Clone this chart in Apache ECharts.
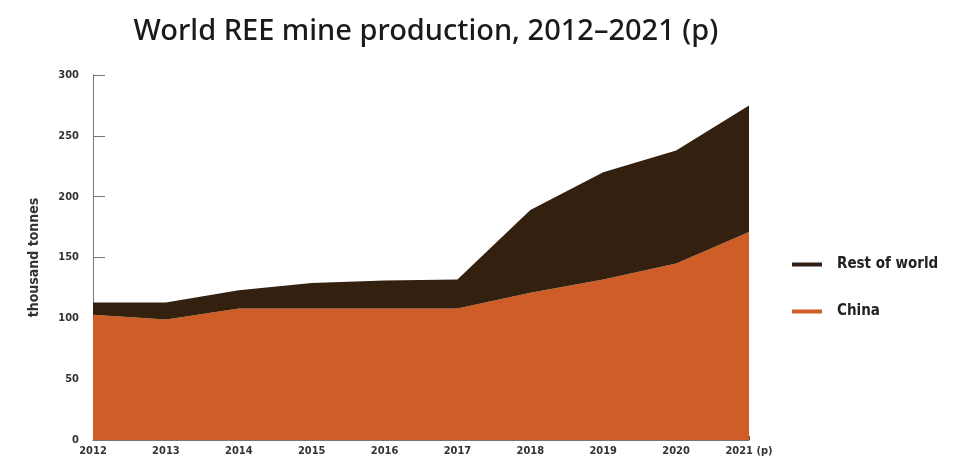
<!DOCTYPE html>
<html>
<head>
<meta charset="utf-8">
<script src="https://cdn.jsdelivr.net/npm/echarts@6/dist/echarts.min.js"></script>
<style>
  html, body { margin: 0; padding: 0; background: #fff; }
  #main { width: 963px; height: 462px; }
</style>
</head>
<body>
<div id="main"></div>
<script>
// 年份（横轴）
var years = ['2012', '2013', '2014', '2015', '2016', '2017', '2018', '2019', '2020', '2021 (p)'];
// 中国产量 / 其他国家产量（千吨）
var china = [103, 99, 108, 108, 108, 108, 121, 132, 145, 171];
var restOfWorld = [10, 14, 15, 21, 23, 24, 68, 88, 93, 104];
var yTicks = [0, 50, 100, 150, 200, 250, 300];

var labelFont = 'DejaVu Sans Condensed';

var myChart = echarts.init(document.getElementById('main'));
myChart.setOption({
  animation: false,
  title: {
    text: 'World REE mine production, 2012\u20132021 (p)',
    left: 421,
    textAlign: 'center',
    top: 12,
    textStyle: {
      fontFamily: 'Noto Sans',
      fontWeight: 500,
      fontSize: 29,
      color: '#1a1a1a'
    }
  },
  legend: {
    orient: 'vertical',
    left: 787,
    top: 252,
    itemGap: 32,
    itemWidth: 30,
    itemHeight: 4,
    icon: 'rect',
    data: ['Rest of world', 'China'],
    textStyle: {
      fontFamily: labelFont,
      fontWeight: 'bold',
      fontSize: 15,
      color: '#222',
      padding: [0, 0, 0, 10]
    }
  },
  grid: {
    left: 93,
    right: 214,
    top: 75,
    bottom: 22,
    containLabel: false
  },
  xAxis: {
    type: 'category',
    boundaryGap: false,
    data: years,
    axisLine: { show: true, lineStyle: { color: '#777', width: 1 } },
    axisTick: { show: true, inside: true, length: 4, lineStyle: { color: '#8a4a22' } },
    axisLabel: {
      fontFamily: labelFont,
      fontWeight: 'bold',
      fontSize: 11,
      color: '#333',
      margin: 6
    },
    splitLine: { show: false }
  },
  yAxis: {
    type: 'value',
    min: yTicks[0],
    max: yTicks[yTicks.length - 1],
    interval: 50,
    name: 'thousand tonnes',
    nameLocation: 'middle',
    nameGap: 52,
    nameTextStyle: {
      fontFamily: labelFont,
      fontWeight: 'bold',
      fontSize: 14,
      color: '#333'
    },
    axisLine: { show: true, lineStyle: { color: '#777', width: 1 } },
    axisTick: { show: true, inside: true, length: 12, lineStyle: { color: '#777' } },
    axisLabel: {
      fontFamily: labelFont,
      fontWeight: 'bold',
      fontSize: 11,
      color: '#333',
      margin: 14
    },
    splitLine: { show: false }
  },
  series: [
    {
      name: 'China',
      type: 'line',
      stack: 'total',
      data: china,
      symbol: 'none',
      color: '#CF5D27',
      lineStyle: { width: 0 },
      areaStyle: { color: '#CF5D27', opacity: 1 },
      z: 2
    },
    {
      name: 'Rest of world',
      type: 'line',
      stack: 'total',
      data: restOfWorld,
      symbol: 'none',
      color: '#2F1F14',
      lineStyle: { width: 0 },
      areaStyle: { color: '#33200F', opacity: 1 },
      z: 2
    }
  ]
});
</script>
</body>
</html>
